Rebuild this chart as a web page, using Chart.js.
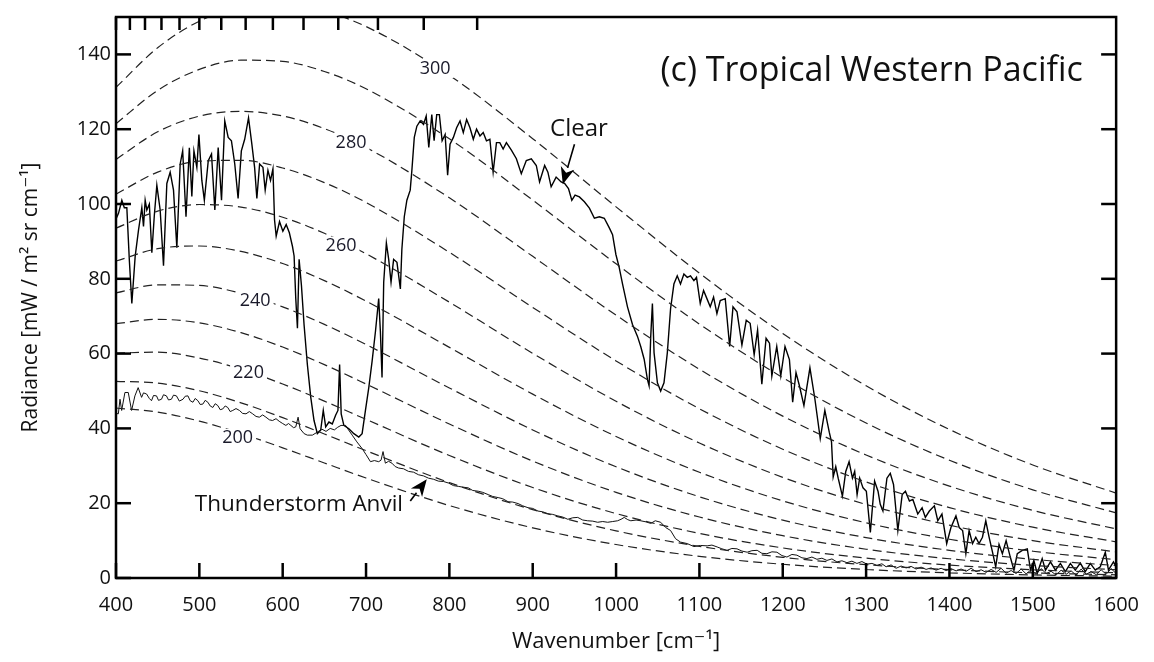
<!DOCTYPE html>
<html><head><meta charset="utf-8">
<script src="https://cdn.jsdelivr.net/npm/chart.js@4.4.1/dist/chart.umd.min.js"></script>
<style>html,body{margin:0;padding:0;background:#fff;}canvas{display:block;}</style>
</head><body>
<canvas id="c" width="1154" height="662"></canvas>
<script>
// ---------- data ----------
const xTickValues = [400,500,600,700,800,900,1000,1100,1200,1300,1400,1500,1600];
const yTickValues = [0,20,40,60,80,100,120,140];
const wavelengthTicks = [12,13,14,15,16,17,18,19,20,21,22,23,24,25]; // micrometres (top axis marks)

const planckWn = [400,450,500,550,600,650,700,800,900,1000,1100,1200,1300,1400,1500,1600];
const planckTemps = [200,210,220,230,240,250,260,270,280,290,300];
const planckT200 = [45.45,44.37,41.95,38.64,34.81,30.76,26.73,19.37,13.41,8.95,5.80,3.67,2.27,1.38,0.83,0.49];
const planckT210 = [52.59,52.11,50.06,46.84,42.88,38.52,34.04,25.50,18.27,12.61,8.46,5.53,3.55,2.23,1.38,0.85];
const planckT220 = [60.11,60.39,58.82,55.84,51.87,47.29,42.42,32.76,24.19,17.23,11.92,8.04,5.32,3.45,2.21,1.39];
const planckT230 = [68.00,69.16,68.22,65.60,61.75,57.05,51.88,41.18,31.27,22.91,16.30,11.31,7.69,5.14,3.38,2.20];
const planckT240 = [76.22,78.39,78.22,76.11,72.50,67.81,62.42,50.81,39.58,29.75,21.72,15.47,10.80,7.40,5.00,3.33];
const planckT250 = [84.75,88.05,88.77,87.31,84.08,79.52,74.03,61.67,49.16,37.84,28.28,20.63,14.75,10.36,7.16,4.89];
const planckT260 = [93.55,98.10,99.86,99.18,96.47,92.17,86.70,73.75,60.07,47.25,36.10,26.92,19.67,14.12,9.99,6.97];
const planckT270 = [102.63,108.53,111.44,111.68,109.63,105.73,100.41,87.08,72.35,58.05,45.25,34.44,25.68,18.82,13.58,9.67];
const planckT280 = [111.93,119.30,123.49,124.78,123.53,120.17,115.12,101.64,86.00,70.28,55.83,43.29,32.90,24.57,18.07,13.12];
const planckT290 = [121.47,130.39,135.98,138.45,138.13,135.44,130.81,117.42,101.04,84.01,67.90,53.58,41.44,31.49,23.58,17.42];
const planckT300 = [131.20,141.78,148.87,152.65,153.40,151.53,147.45,134.40,117.47,99.24,81.51,65.38,51.39,39.71,30.22,22.70];

const clearWn = [400,403,407,410,413,416,419,423,427,431,433,435,437,440,443,446,449,453,457,461,465,469,473,477,480,484,488,491,493.5,497,499.5,503,506,510.7,514.6,518.6,522.6,526.6,530.5,534.6,538.5,542.5,546.5,550.4,554.4,559,563,566.3,569,572.3,576.3,579,582.3,585.4,588.3,590.2,592.2,596.2,600.2,604.2,608,611.7,613.7,615.7,617.7,619.7,622.5,625.7,629.6,633.7,637.6,641.6,645.6,648.7,651.6,655.5,659.5,663.5,666.3,668.3,670.2,673.4,679.4,685.4,691.3,695.3,699.3,703.3,707.3,711.3,715.2,717.2,719.2,721.2,724.4,727.2,730,733.1,737.1,741.2,743,745.9,749,753,755,757.9,761,765,769,772.2,775.3,778.9,781.7,784.8,788,791.3,794.9,797.9,800.8,804.8,808.7,812.8,816.7,820.7,824.7,828.7,832.6,836.7,840.6,844.5,848.6,852.5,856.5,860.5,864.5,868.4,874.4,880.4,886.3,892.3,898.3,904.3,908.2,914.3,918.2,922.1,928.1,934.1,938.2,942.9,946.9,950.8,956,962,968,974,980,985.9,991.9,995.8,999.8,1003.8,1007.8,1013.7,1019.7,1025.7,1029.6,1033.7,1037.6,1039.6,1041.6,1043.6,1045.6,1049.6,1053.5,1057.5,1061.5,1065.4,1069.4,1073.4,1077.3,1081.4,1085.4,1089.3,1093.4,1096.5,1101,1105,1109,1113,1117,1121,1125,1131,1136.3,1140.3,1145.1,1151,1156.2,1160.9,1165.7,1169.8,1174.9,1180,1184.1,1186.9,1192.8,1197.6,1202.7,1208,1211.9,1215.9,1220,1225.4,1232.6,1238.6,1245,1250.5,1255.8,1258.5,1260.5,1263.6,1266.5,1271.6,1275.6,1279.6,1283.6,1286.3,1289.2,1292.3,1296.3,1300.3,1305.1,1310.2,1314.3,1317,1320.2,1325,1329,1332.9,1338.1,1343.3,1347.2,1352,1356.1,1362,1367.2,1371.1,1375.9,1381.9,1386,1391,1396.7,1401.8,1407.8,1411.7,1415.8,1419.7,1423.6,1427.7,1431.6,1435.5,1439.6,1443.6,1447.5,1451.6,1455.5,1459.5,1463.5,1468,1473,1477.4,1481.4,1487.4,1493.4,1497.3,1501.3,1505.3,1511.3,1515.2,1521.2,1527.2,1533.1,1539.1,1545.1,1551,1557,1563,1569,1575,1581,1587,1590.8,1596.8,1600];
const clearRad = [96,97.5,101,99,99,85,73.4,86,93,99,94,101,98.4,100,87,97,105,98.4,83.5,105.5,108.5,103.7,88.3,110.7,114.2,96.6,115,102,114.2,109.8,118.6,106.3,101,111.6,113.4,98.4,115.1,101,122.2,117.8,116.9,110.7,101.5,114.2,117.3,123,116,109.8,101.5,110.7,109.8,103.7,109,106.3,109.4,95.8,91.4,95.3,92.7,94.5,92.3,88.7,86.1,74.7,66.8,85.2,78.2,67.6,57.1,48.3,42.1,38.6,39.5,44.8,40.4,41.7,41.2,43.5,44.8,57.1,43.9,40.8,39.9,38.6,37.7,38.6,44.8,50.9,58,65.9,74.7,66,53.6,79.1,89.6,85.2,79.1,85.2,84.4,77.3,87.9,96.6,101,103.7,109,117.8,120.8,122.2,121.3,123.5,115.1,123.9,116.9,123.9,123.9,116.9,118.6,107.7,116,117.8,120.4,122.2,119.1,122.6,120.4,117.3,120,118.2,119.1,116.9,117.3,108.5,116.4,116.4,114.7,116.4,114.4,112.1,108.1,111.6,112.1,110.3,105.9,110.3,108.5,104.6,107.2,105.9,105.5,104.1,101,102.4,101.9,100.6,98.9,96.2,96.6,96.2,93.6,91.8,86.5,83,78.6,72.5,67.8,64.6,61.9,58.5,53.1,51.4,64.6,73.4,60.2,52.2,50,52.2,60.2,72,78.6,80.8,78.6,81.3,80.4,80.8,79.5,80.4,73.4,76.9,74.7,72.5,75.1,70.7,74.2,74.7,61.9,72.5,71.2,62.3,68.9,68.1,59.7,66.3,51.8,64.1,62.8,54,61.9,54,61.9,58.4,47,54.9,51.4,46.1,56.2,47.8,37.3,44.8,39,36.4,27,29.8,26.7,21.9,28.5,31.1,26.7,28.5,22.3,26.7,24.1,23.2,12.2,25.9,23.2,19.7,17.9,26.7,28,25,12.7,22.3,23.2,20.6,21,17.1,18.8,16.2,17.9,19.3,15.3,17.1,9.2,13.5,16.6,13.5,12.7,6.5,12.7,9.2,10.9,9.2,10.9,15.3,11,7,3,9,6.5,10,5.6,2.1,6.5,7.4,7.8,2.1,4.7,1.2,5.2,2.1,4.3,2.1,3.9,1.7,3.9,2.1,4,1.7,3.9,2.1,3,6.9,2.1,4.3,3];

const anvilWn = [400,402.8,404.8,406.8,410.7,414.7,418.7,422.7,426.6,430.7,433,436.7,440,442.6,445,448.6,451,454.6,457,460.5,463,466.5,469,472.5,476,480.4,483,486.3,489,492.3,495,498.3,501,504.2,507,510.2,513,516.2,519,522.2,525,528.1,531,534.1,537,540.1,544,548.1,552,556,560,564,568,572,576,579.9,584,587.8,592,595.8,600,603.8,607,609.8,613,615.7,618.5,620.9,625.7,629.6,635.6,641.6,647,652,657,662,666,670,675.5,679,683.4,689,695.3,700,705.3,710,715.2,718,720.4,723.2,727,731.1,735,739.1,745,751,757,763,769,774.9,781,786.9,793,798.8,805,810.7,816,822.7,828,834.6,840,846.6,852,858.5,864,870.4,876,882.4,888,894.3,900,906.3,912,918.2,924,930.1,936,942.1,948,954,960,965.9,972,977.9,984,989.9,996,1001.8,1006,1009.8,1014,1017.7,1024,1029.6,1036,1041.6,1047,1053.5,1059.5,1065.4,1071.4,1077.3,1085.4,1093.4,1101.3,1109.3,1115,1121.3,1127,1133.1,1139,1145.1,1151,1157.3,1163,1169.3,1175,1181,1187,1193,1199,1205,1211,1217,1223,1229,1235,1241,1247,1253,1259,1265,1271,1277,1283,1289,1295,1301,1307,1313,1319,1324,1330,1336,1342,1348,1354,1360,1366,1372,1378,1384,1390,1396,1402,1408,1414,1420,1426,1432,1438,1444,1450,1456,1462,1468,1474,1480,1486,1492,1498,1504,1510,1516,1522,1528,1534,1540,1546,1552,1558,1564,1570,1576,1582,1588,1594,1600];
const anvilRad = [44,43.9,47.8,44.8,49.6,49.6,44.8,48.7,50.9,48.3,49.5,49.2,48,47.4,48.8,48.7,47.5,47.8,49,48.7,47.6,47.8,48.9,48.7,47.3,47.8,48.6,48.7,47.4,47,48,47.4,46.4,46.5,47.5,47,46,45.6,46.6,46.1,45,45.2,46,45.6,44.5,44.8,45.3,44.8,44,43.9,44.5,43.9,43.2,43,43.6,43,42.3,42.1,42.6,41.9,41.3,40.8,41.3,40.8,40.2,40.4,43,39.9,38.6,38.2,38.2,39,39.8,39.2,40,39.6,40.3,40.8,40.8,39.6,38.2,36.4,34.6,33,31.1,31.4,31.1,31.5,33.8,30.7,31.2,30.7,29.8,29.4,29.2,28.5,28.3,27.6,27.3,26.7,26.4,25.9,25.8,25.4,24.7,24.5,24.3,24.1,23.4,23.2,22.9,22.3,21.8,21.5,21.2,20.4,20.3,19.9,19.3,18.8,18.6,17.9,17.7,17.2,17,16.6,16.3,15.7,16.1,16.2,15.5,15.3,15.2,14.9,15.1,14.9,15.1,15.3,15.7,16.2,15.6,15.3,15.5,15.3,15,14.6,15.3,14.9,13.5,12.7,10.5,9.6,9.2,8.4,8.7,8.6,8.8,8.3,7.8,7.4,7.9,7.8,7.2,6.9,7.3,7.4,6.6,6.5,7,6.9,6,5.6,6.3,6.1,5.4,5.2,5.6,5,5.3,4.7,5.1,4.3,4.6,4.1,4.5,3.9,4.4,3.7,3.9,3.4,3.8,3,3.5,2.6,3.2,2.7,3.1,2.4,2.9,2.3,2.7,2.1,2.6,2,2.5,1.9,2.4,1.8,2.6,1.7,2.2,1.5,2.3,1.5,2.6,1.3,2,1.2,2.4,1.1,2.2,1,2.5,1.2,1.8,0.8,2.1,1,1.9,0.8,2.4,1,1.7,0.9,2.2,1,2.5,1.2];

// ---------- build datasets ----------
const FONT = "'Open Sans', 'DejaVu Sans', sans-serif";
const planckSets = [planckT200,planckT210,planckT220,planckT230,planckT240,planckT250,planckT260,planckT270,planckT280,planckT290,planckT300];
const toPts = (xs, ys) => xs.map((v, i) => ({x: v, y: ys[i]}));

const datasets = planckSets.map((vals, i) => ({
  label: planckTemps[i] + ' K',
  data: toPts(planckWn, vals),
  borderColor: '#222',
  borderWidth: 1.2,
  borderDash: [9, 5],
  pointRadius: 0,
  cubicInterpolationMode: 'monotone',
  fill: false
}));
datasets.push({label: 'Thunderstorm Anvil', data: toPts(anvilWn, anvilRad), borderColor: '#111', borderWidth: 1, pointRadius: 0, tension: 0, fill: false});
datasets.push({label: 'Clear', data: toPts(clearWn, clearRad), borderColor: '#000', borderWidth: 1.4, pointRadius: 0, tension: 0, fill: false});

// ---------- overlay (frame, inward ticks, annotations) ----------
const overlay = {
  id: 'overlay',
  afterDraw(chart, args, opts) {
    const {ctx, chartArea: a, scales: {x, y}} = chart;
    const line = (x1, y1, x2, y2) => { ctx.beginPath(); ctx.moveTo(x1, y1); ctx.lineTo(x2, y2); ctx.stroke(); };
    ctx.save();
    // curve labels with white boxes
    ctx.font = '18px ' + FONT;
    ctx.textAlign = 'center'; ctx.textBaseline = 'middle';
    opts.curveLabels.forEach(l => {
      const px = x.getPixelForValue(l.x), py = y.getPixelForValue(l.y);
      const w = ctx.measureText(l.text).width;
      ctx.fillStyle = '#fff';
      ctx.fillRect(px - w / 2 - 3, py - 9, w + 6, 18);
      ctx.fillStyle = '#1a1a2a';
      ctx.fillText(l.text, px, py);
    });
    // text annotations
    opts.texts.forEach(t => {
      ctx.font = t.size + 'px ' + FONT;
      ctx.fillStyle = '#111';
      ctx.textAlign = t.align; ctx.textBaseline = 'middle';
      ctx.fillText(t.text, x.getPixelForValue(t.x), y.getPixelForValue(t.y));
    });
    // arrows
    ctx.strokeStyle = '#000'; ctx.fillStyle = '#000'; ctx.lineWidth = 1.6;
    opts.arrows.forEach(ar => {
      const x1 = x.getPixelForValue(ar.from[0]), y1 = y.getPixelForValue(ar.from[1]);
      const x2 = x.getPixelForValue(ar.to[0]), y2 = y.getPixelForValue(ar.to[1]);
      const ang = Math.atan2(y2 - y1, x2 - x1);
      const hl = 17, hw = 7;
      const bx = x2 - hl * Math.cos(ang), by = y2 - hl * Math.sin(ang);
      line(x1, y1, bx, by);
      ctx.beginPath();
      ctx.moveTo(x2, y2);
      ctx.lineTo(bx + hw * Math.sin(ang), by - hw * Math.cos(ang));
      ctx.lineTo(x2 - hl * 0.7 * Math.cos(ang), y2 - hl * 0.7 * Math.sin(ang));
      ctx.lineTo(bx - hw * Math.sin(ang), by + hw * Math.cos(ang));
      ctx.closePath(); ctx.fill();
    });
    // frame and inward ticks
    ctx.strokeStyle = '#000'; ctx.lineWidth = 2.5;
    ctx.strokeRect(a.left, a.top, a.right - a.left, a.bottom - a.top);
    xTickValues.forEach(v => { const px = x.getPixelForValue(v); line(px, a.bottom, px, a.bottom - 15); });
    yTickValues.forEach(v => { const py = y.getPixelForValue(v); line(a.left, py, a.left + 15, py); line(a.right, py, a.right - 15, py); });
    wavelengthTicks.forEach(l => { const px = x.getPixelForValue(10000 / l); line(px, a.top, px, a.top + 13); });
    ctx.restore();
  }
};

new Chart(document.getElementById('c'), {
  type: 'line',
  data: {datasets},
  plugins: [overlay],
  options: {
    responsive: false,
    animation: false,
    devicePixelRatio: 1,
    layout: {padding: {top: 10, right: 33, left: 0, bottom: 0}},
    plugins: {
      legend: {display: false},
      tooltip: {enabled: false},
      overlay: {
        curveLabels: [
          {text: '300', x: 783, y: 136.1},
          {text: '280', x: 682, y: 116.4},
          {text: '260', x: 670, y: 88.9},
          {text: '240', x: 567, y: 74.1},
          {text: '220', x: 559, y: 54.9},
          {text: '200', x: 546, y: 37.5}
        ],
        texts: [
          {text: '(c) Tropical Western Pacific', x: 1560, y: 135.6, size: 34, align: 'right'},
          {text: 'Clear', x: 955.5, y: 120.1, size: 24, align: 'center'},
          {text: 'Thunderstorm Anvil', x: 619.5, y: 19.5, size: 22.5, align: 'center'}
        ],
        arrows: [
          {from: [950.1, 116.0], to: [936.1, 105.3]},
          {from: [753.1, 20.6], to: [772.9, 26.4]}
        ]
      }
    },
    scales: {
      x: {
        type: 'linear', min: 400, max: 1600,
        grid: {display: false, drawTicks: false},
        border: {display: false},
        afterBuildTicks: s => { s.ticks = xTickValues.map(v => ({value: v})); },
        afterFit: s => { s.height = 84; },
        ticks: {autoSkip: false, maxRotation: 0, padding: 15, color: '#111', font: {family: FONT, size: 20}, callback: v => String(v)},
        title: {display: true, text: 'Wavenumber [cm\u207B\u00B9]', color: '#111', font: {family: FONT, size: 22}, padding: {top: 0, bottom: 7}}
      },
      y: {
        type: 'linear', min: 0, max: 150,
        grid: {display: false, drawTicks: false},
        border: {display: false},
        afterBuildTicks: s => { s.ticks = yTickValues.map(v => ({value: v})); },
        afterFit: s => { s.width = 116; },
        ticks: {padding: 5, color: '#111', font: {family: FONT, size: 20}, callback: v => String(v)},
        title: {display: true, text: 'Radiance [mW / m\u00B2 sr cm\u207B\u00B9]', color: '#111', font: {family: FONT, size: 21}, padding: {top: 18, bottom: 0}}
      }
    }
  }
});
</script>
</body></html>
